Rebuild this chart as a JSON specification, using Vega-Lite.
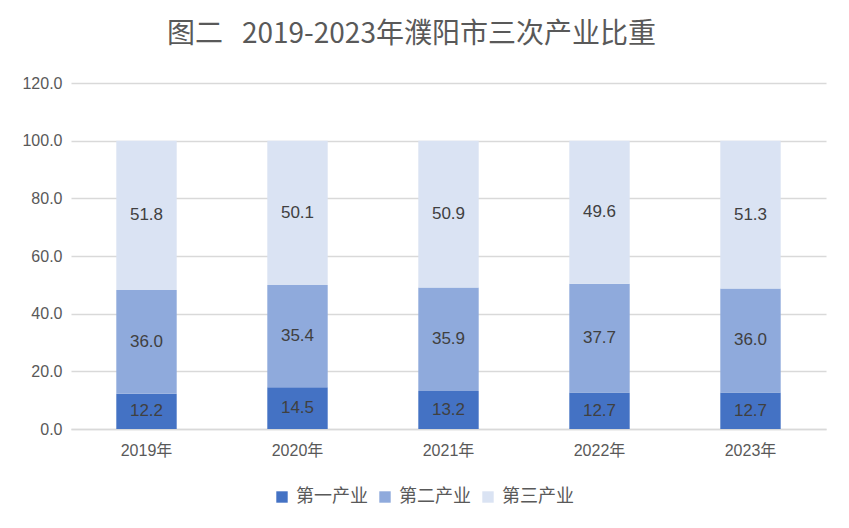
{
  "$schema": "https://vega.github.io/schema/vega-lite/v6.json",
  "width": 755,
  "height": 346,
  "autosize": {"type": "none"},
  "padding": {"left": 71, "top": 83, "right": 23, "bottom": 99},
  "background": "white",
  "title": {
    "text": "图二\u00a0\u00a0\u00a02019-2023年濮阳市三次产业比重",
    "font": "Noto Sans CJK SC",
    "fontSize": 28,
    "fontWeight": "normal",
    "color": "#595959",
    "anchor": "middle",
    "dx": -37,
    "offset": 26
  },
  "data": {
    "values": [
      {"year": "2019年", "industry": "第一产业", "order": 1, "value": 12.2},
      {"year": "2019年", "industry": "第二产业", "order": 2, "value": 36.0},
      {"year": "2019年", "industry": "第三产业", "order": 3, "value": 51.8},
      {"year": "2020年", "industry": "第一产业", "order": 1, "value": 14.5},
      {"year": "2020年", "industry": "第二产业", "order": 2, "value": 35.4},
      {"year": "2020年", "industry": "第三产业", "order": 3, "value": 50.1},
      {"year": "2021年", "industry": "第一产业", "order": 1, "value": 13.2},
      {"year": "2021年", "industry": "第二产业", "order": 2, "value": 35.9},
      {"year": "2021年", "industry": "第三产业", "order": 3, "value": 50.9},
      {"year": "2022年", "industry": "第一产业", "order": 1, "value": 12.7},
      {"year": "2022年", "industry": "第二产业", "order": 2, "value": 37.7},
      {"year": "2022年", "industry": "第三产业", "order": 3, "value": 49.6},
      {"year": "2023年", "industry": "第一产业", "order": 1, "value": 12.7},
      {"year": "2023年", "industry": "第二产业", "order": 2, "value": 36.0},
      {"year": "2023年", "industry": "第三产业", "order": 3, "value": 51.3}
    ]
  },
  "transform": [
    {"stack": "value", "groupby": ["year"], "sort": [{"field": "order", "order": "ascending"}], "as": ["y0", "y1"]},
    {"calculate": "(datum.y0 + datum.y1) / 2", "as": "mid"}
  ],
  "encoding": {
    "x": {
      "field": "year",
      "type": "nominal",
      "title": null,
      "scale": {"paddingInner": 0.6, "paddingOuter": 0.3},
      "axis": {
        "labelAngle": 0,
        "labelFont": "Liberation Sans, Noto Sans CJK SC",
        "labelFontSize": 16,
        "labelColor": "#595959",
        "labelPadding": 13,
        "ticks": false,
        "domain": true,
        "domainColor": "#D9D9D9",
        "domainWidth": 1.5,
        "grid": false
      }
    }
  },
  "layer": [
    {
      "mark": {"type": "bar"},
      "encoding": {
        "y": {
          "field": "y0",
          "type": "quantitative",
          "title": null,
          "scale": {"domain": [0, 120], "nice": false},
          "axis": {
            "values": [0, 20, 40, 60, 80, 100, 120],
            "format": ".1f",
            "labelFont": "Liberation Sans",
            "labelFontSize": 16,
            "labelColor": "#595959",
            "labelPadding": 9,
            "ticks": false,
            "domain": false,
            "grid": true,
            "gridColor": "#D9D9D9",
            "gridWidth": 1.5
          }
        },
        "y2": {"field": "y1"},
        "color": {
          "field": "industry",
          "type": "nominal",
          "sort": ["第一产业", "第二产业", "第三产业"],
          "scale": {"domain": ["第一产业", "第二产业", "第三产业"], "range": ["#4472C4", "#8FAADC", "#DAE3F3"]},
          "legend": {
            "title": null,
            "orient": "none",
            "direction": "horizontal",
            "legendX": 202,
            "legendY": 405,
            "symbolType": "square",
            "symbolSize": 130,
            "symbolStrokeWidth": 0,
            "labelFont": "Noto Sans CJK SC",
            "labelFontSize": 18,
            "labelColor": "#595959",
            "labelOffset": 5,
            "columnPadding": 8
          }
        }
      }
    },
    {
      "mark": {"type": "text", "font": "Liberation Sans", "fontSize": 17, "color": "#404040", "baseline": "middle", "align": "center"},
      "encoding": {
        "y": {"field": "mid", "type": "quantitative"},
        "text": {"field": "value", "type": "quantitative", "format": ".1f"}
      }
    }
  ],
  "config": {"view": {"stroke": null}}
}
